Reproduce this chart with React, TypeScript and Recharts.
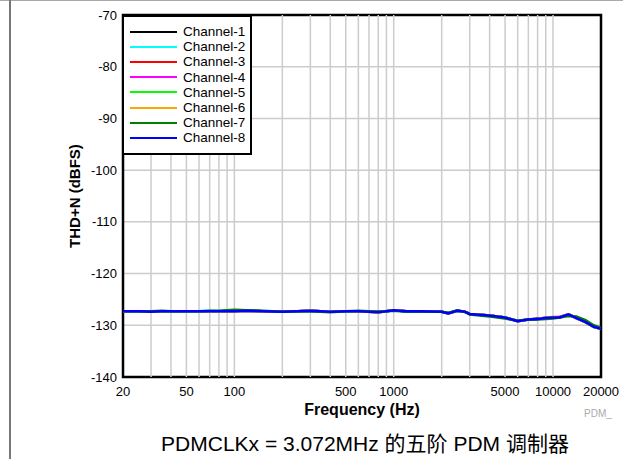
import {
  LineChart,
  Line,
  XAxis,
  YAxis,
  CartesianGrid,
  ReferenceLine,
  ReferenceArea,
  Legend,
} from 'recharts';

const freqs = [
  20, 25, 30, 35, 40, 50, 60, 70, 80, 100, 120, 150, 200, 250, 300, 400, 500, 600, 700, 800, 900,
  1000, 1200, 1500, 2000, 2200, 2500, 2800, 3000, 4000, 5000, 6000, 7000, 8000, 9000, 10000, 11000,
  12500, 14000, 16000, 18000, 20000,
];

const ch1 = [
  -127.3, -127.3, -127.4, -127.3, -127.3, -127.3, -127.3, -127.3, -127.3, -127.2, -127.2, -127.3,
  -127.4, -127.3, -127.2, -127.4, -127.3, -127.3, -127.4, -127.4, -127.3, -127.1, -127.3, -127.3,
  -127.4, -127.6, -127.2, -127.4, -127.8, -128.1, -128.5, -129.1, -128.9, -128.7, -128.6, -128.5,
  -128.4, -127.9, -128.5, -129.4, -130.3, -130.7,
];
const ch2 = [
  -127.3, -127.3, -127.3, -127.3, -127.3, -127.3, -127.3, -127.2, -127.3, -127.2, -127.2, -127.3,
  -127.4, -127.3, -127.2, -127.4, -127.3, -127.3, -127.4, -127.5, -127.3, -127.1, -127.3, -127.3,
  -127.4, -127.7, -127.2, -127.4, -127.8, -128.1, -128.5, -129.2, -128.9, -128.8, -128.6, -128.5,
  -128.5, -127.9, -128.6, -129.4, -130.3, -130.7,
];
const ch3 = [
  -127.3, -127.3, -127.4, -127.3, -127.3, -127.3, -127.3, -127.3, -127.3, -127.3, -127.2, -127.3,
  -127.4, -127.3, -127.2, -127.4, -127.3, -127.3, -127.4, -127.5, -127.3, -127.1, -127.3, -127.3,
  -127.4, -127.7, -127.2, -127.4, -127.8, -128.1, -128.5, -129.2, -128.9, -128.8, -128.6, -128.5,
  -128.5, -127.9, -128.6, -129.4, -130.3, -130.7,
];
const ch4 = [
  -127.3, -127.3, -127.4, -127.3, -127.3, -127.3, -127.3, -127.3, -127.3, -127.3, -127.2, -127.3,
  -127.4, -127.3, -127.2, -127.4, -127.3, -127.3, -127.4, -127.5, -127.3, -127.1, -127.3, -127.3,
  -127.4, -127.7, -127.2, -127.4, -127.8, -128.1, -128.5, -129.2, -128.9, -128.8, -128.5, -128.4,
  -128.4, -127.9, -128.6, -129.4, -130.3, -130.7,
];
const ch5 = [
  -127.3, -127.3, -127.4, -127.3, -127.3, -127.3, -127.3, -127.3, -127.3, -127.3, -127.2, -127.3,
  -127.4, -127.3, -127.2, -127.4, -127.3, -127.3, -127.4, -127.5, -127.3, -127.1, -127.3, -127.3,
  -127.4, -127.7, -127.2, -127.4, -127.8, -128.1, -128.5, -129.2, -128.9, -128.8, -128.6, -128.5,
  -128.5, -127.9, -128.6, -129.4, -130.3, -130.7,
];
const ch6 = [
  -127.3, -127.3, -127.4, -127.3, -127.3, -127.3, -127.3, -127.3, -127.3, -127.3, -127.2, -127.3,
  -127.4, -127.3, -127.2, -127.4, -127.3, -127.3, -127.4, -127.5, -127.3, -127.1, -127.3, -127.3,
  -127.4, -127.7, -127.2, -127.4, -127.8, -128.1, -128.5, -129.2, -128.9, -128.8, -128.6, -128.5,
  -128.5, -127.9, -128.6, -129.4, -130.3, -130.7,
];
const ch7 = [
  -127.3, -127.3, -127.3, -127.2, -127.3, -127.3, -127.3, -127.2, -127.2, -127.0, -127.1, -127.2,
  -127.4, -127.3, -127.3, -127.5, -127.3, -127.2, -127.3, -127.4, -127.3, -127.2, -127.4, -127.4,
  -127.4, -127.6, -127.1, -127.4, -127.9, -128.3, -128.7, -129.1, -128.9, -128.9, -128.8, -128.7,
  -128.5, -128.2, -128.3, -129.0, -130.0, -130.5,
];
const ch8 = [
  -127.3, -127.3, -127.4, -127.3, -127.3, -127.3, -127.3, -127.3, -127.3, -127.3, -127.2, -127.3,
  -127.4, -127.3, -127.2, -127.4, -127.3, -127.3, -127.4, -127.5, -127.3, -127.1, -127.3, -127.3,
  -127.4, -127.7, -127.2, -127.4, -127.8, -128.1, -128.5, -129.2, -128.9, -128.8, -128.6, -128.5,
  -128.5, -127.9, -128.6, -129.4, -130.3, -130.7,
];

const channels = [
  { name: 'Channel-1', color: '#000000', values: ch1 },
  { name: 'Channel-2', color: '#00ffff', values: ch2 },
  { name: 'Channel-3', color: '#ff0000', values: ch3 },
  { name: 'Channel-4', color: '#ff00ff', values: ch4 },
  { name: 'Channel-5', color: '#00ff00', values: ch5 },
  { name: 'Channel-6', color: '#ffa500', values: ch6 },
  { name: 'Channel-7', color: '#007f00', values: ch7 },
  { name: 'Channel-8', color: '#0000ff', values: ch8 },
];

const xTicks = [20, 50, 100, 500, 1000, 5000, 10000, 20000];
const yTicks = [-140, -130, -120, -110, -100, -90, -80, -70];
const gridFreqs = [
  30, 40, 50, 60, 70, 80, 90, 100, 200, 300, 400, 500, 600, 700, 800, 900, 1000, 2000, 3000, 4000,
  5000, 6000, 7000, 8000, 9000, 10000,
];

const data = freqs.map((f, i) => {
  const row: Record<string, number> = { f };
  channels.forEach((c) => {
    row[c.name] = c.values[i];
  });
  return row;
});

const font = '"Liberation Sans", Arial, Helvetica, sans-serif';

function LegendBox() {
  return (
    <div
      style={{
        width: 130,
        height: 140,
        border: '2px solid #000',
        background: '#fff',
        fontFamily: font,
        fontSize: 13.5,
        color: '#000',
        paddingTop: 7,
        boxSizing: 'border-box',
      }}
    >
      {channels.map((c) => (
        <div key={c.name} style={{ display: 'flex', alignItems: 'center', height: 15.2 }}>
          <div style={{ width: 47, height: 2, background: c.color, marginLeft: 6, marginRight: 6 }} />
          <span style={{ lineHeight: '15px' }}>{c.name}</span>
        </div>
      ))}
    </div>
  );
}

export default function App() {
  return (
    <div
      style={{
        position: 'absolute',
        left: 0,
        top: 0,
        width: 623,
        height: 459,
        background: '#fff',
        fontFamily: font,
      }}
    >
      <div style={{ position: 'absolute', left: 0, top: 0, width: 623, height: 1, background: '#aaa' }} />
      <div style={{ position: 'absolute', left: 9, top: 0, width: 2, height: 459, background: '#777' }} />
      <LineChart
        width={623}
        height={459}
        data={data}
        margin={{ top: 15, right: 22, left: 63, bottom: 52 }}
      >
        <CartesianGrid vertical={false} stroke="#cccccc" strokeWidth={1.5} />
        {gridFreqs.map((f) => (
          <ReferenceLine key={f} x={f} stroke="#cccccc" strokeWidth={1.5} />
        ))}
        <XAxis
          dataKey="f"
          type="number"
          scale="log"
          domain={[20, 20000]}
          ticks={xTicks}
          allowDataOverflow
          tickLine={false}
          axisLine={false}
          tickSize={0}
          tickMargin={10}
          height={30}
          tick={{ fill: '#000', fontSize: 13, fontFamily: font }}
          label={{
            content: () => (
              <g>
                <text
                  x={362}
                  y={415}
                  textAnchor="middle"
                  fontFamily={font}
                  fontWeight="bold"
                  fontSize={16}
                  fill="#000"
                >
                  Frequency (Hz)
                </text>
                <text x={584} y={417} fontFamily={font} fontSize={10} fill="#aaa">
                  PDM_
                </text>
                <text
                  x={365}
                  y={451}
                  textAnchor="middle"
                  fontFamily={'"Liberation Sans", "Noto Sans CJK SC", sans-serif'}
                  fontSize={21}
                  fill="#000"
                >
                  PDMCLKx = 3.072MHz 的五阶 PDM 调制器
                </text>
              </g>
            ),
          }}
        />
        <YAxis
          type="number"
          domain={[-140, -70]}
          ticks={yTicks}
          allowDataOverflow
          tickLine={false}
          axisLine={false}
          tickSize={0}
          tickMargin={6}
          width={60}
          tick={{ fill: '#000', fontSize: 13, fontFamily: font }}
          label={{
            content: () => (
              <text
                x={80}
                y={196}
                transform="rotate(-90 80 196)"
                textAnchor="middle"
                fontFamily={font}
                fontWeight="bold"
                fontSize={15}
                fill="#000"
              >
                THD+N (dBFS)
              </text>
            ),
          }}
        />
        {channels.map((c) => (
          <Line
            key={c.name}
            dataKey={c.name}
            stroke={c.color}
            strokeWidth={2.5}
            dot={false}
            type="linear"
            isAnimationActive={false}
          />
        ))}
        <ReferenceArea
          x1={20}
          x2={20000}
          y1={-140}
          y2={-70}
          fill="none"
          fillOpacity={0}
          stroke="#000"
          strokeWidth={2.5}
          ifOverflow="visible"
        />
        <Legend
          layout="vertical"
          align="center"
          verticalAlign="middle"
          wrapperStyle={{ top: 15, left: 122, width: 'auto' }}
          content={() => <LegendBox />}
        />
      </LineChart>
    </div>
  );
}
